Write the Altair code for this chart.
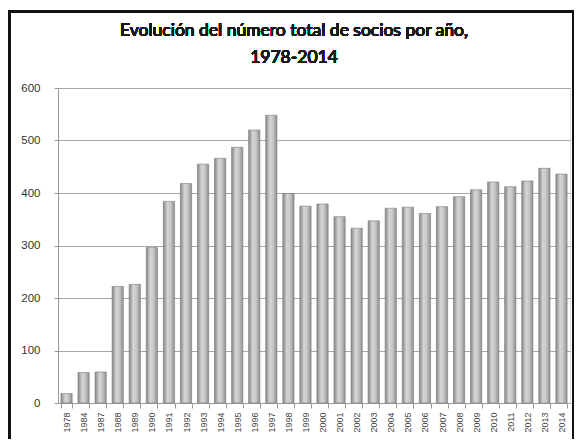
import altair as alt
import pandas as pd

years = ["1978", "1984", "1987", "1988", "1989", "1990", "1991", "1992", "1993", "1994",
         "1995", "1996", "1997", "1998", "1999", "2000", "2001", "2002", "2003", "2004",
         "2005", "2006", "2007", "2008", "2009", "2010", "2011", "2012", "2013", "2014"]
socios = [18, 58, 59, 222, 226, 296, 384, 418, 455, 466,
          487, 520, 548, 399, 375, 379, 355, 333, 347, 371,
          373, 361, 374, 393, 406, 421, 412, 423, 447, 436]
y_ticks = [0, 100, 200, 300, 400, 500, 600]
title_lines = ["Evolución del número total de socios por año,", "1978-2014"]

df = pd.DataFrame({"year": years, "socios": socios})

grad = alt.Gradient(
    gradient="linear",
    stops=[
        alt.GradientStop(color="#858585", offset=0),
        alt.GradientStop(color="#d6d6d6", offset=0.38),
        alt.GradientStop(color="#c6c6c6", offset=0.65),
        alt.GradientStop(color="#8e8e8e", offset=1),
    ],
    x1=0, x2=1, y1=0, y2=0,
)

bars = alt.Chart(df).mark_bar(color=grad, stroke="#7c7c7c", strokeWidth=0.6).encode(
    x=alt.X("year:N", sort=years, title=None,
            scale=alt.Scale(paddingInner=0.34, paddingOuter=0.17),
            axis=alt.Axis(labelAngle=-90, labelFontSize=9, labelColor="#444444",
                          labelFont="Liberation Sans", tickBand="extent",
                          tickColor="#999999", tickSize=5, domainColor="#999999",
                          labelPadding=4)),
    y=alt.Y("socios:Q", title=None,
            scale=alt.Scale(domain=[0, 600], nice=False),
            axis=alt.Axis(values=y_ticks, labelFontSize=11.5, labelColor="#333333",
                          labelFont="Liberation Sans", tickSize=4, tickColor="#999999",
                          labelPadding=14, gridColor="#a6a6a6", gridWidth=1,
                          domainColor="#999999")),
)

frame = alt.Chart(df).mark_rect(filled=False, stroke="#111111", strokeWidth=3).encode(
    x=alt.value(-48.5), x2=alt.value(516), y=alt.value(-76.5), y2=alt.value(360)
)

title_style = dict(fontSize=17.5, font="Lato", fontWeight="normal", color="#1a1a1a",
                   align="center", baseline="middle")

title1 = alt.Chart(df).mark_text(text=title_lines[0], **title_style).encode(
    x=alt.value(236), y=alt.value(-57))
title2 = alt.Chart(df).mark_text(text=title_lines[1], **title_style).encode(
    x=alt.value(236), y=alt.value(-30))

chart = alt.layer(frame, bars, title1, title2).properties(
    width=512,
    height=315,
    autosize=alt.AutoSizeParams(type="none"),
    padding={"left": 50, "top": 80, "right": 4, "bottom": 36},
).configure_view(stroke=None).configure(background="white")

chart.save("out.html", embed_options={"renderer": "svg", "actions": False})
